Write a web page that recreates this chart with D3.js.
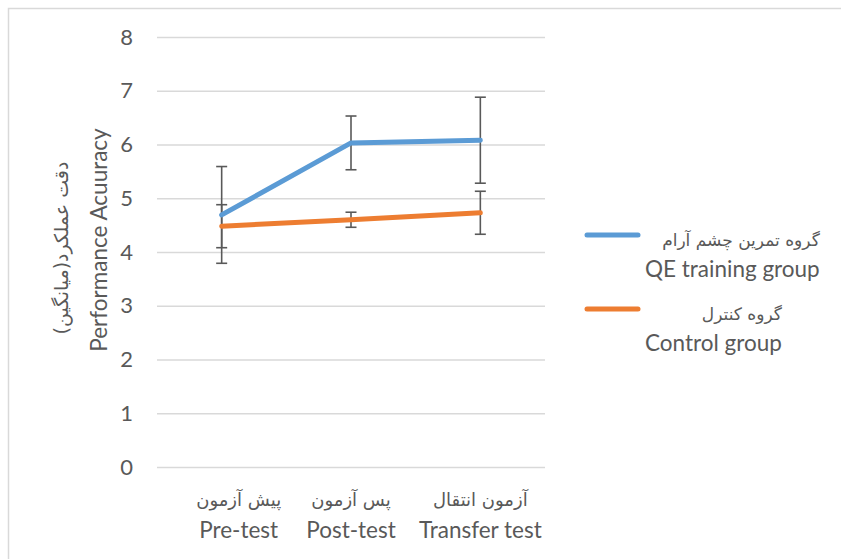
<!DOCTYPE html>
<html>
<head>
<meta charset="utf-8">
<script src="https://cdn.jsdelivr.net/npm/d3@7"></script>
<style>
  body { margin: 0; background: #fff; }
  svg text { fill: #595959; }
  .en { font-family: Lato, 'Liberation Sans', sans-serif; }
  .fa { font-family: 'DejaVu Sans', sans-serif; }
</style>
</head>
<body>
<script>
// chart data
var categories = ['Pre-test', 'Post-test', 'Transfer test'];
var categoriesFa = ['پیش آزمون', 'پس آزمون', 'آزمون انتقال'];
var yTicks = [0, 1, 2, 3, 4, 5, 6, 7, 8];

var qeMeans = [4.69, 6.03, 6.08];
var qeErrors = [0.9, 0.5, 0.8];
var controlMeans = [4.48, 4.60, 4.73];
var controlErrors = [0.4, 0.14, 0.4];

var seriesNames = ['QE training group', 'Control group'];
var seriesNamesFa = ['گروه تمرین چشم آرام', 'گروه کنترل'];
var seriesColors = ['#5B9BD5', '#ED7D31'];

var chart = {
  width: 841,
  height: 559,
  left: 157,
  right: 545,
  top: 37,
  bottom: 467
};

var svg = d3.select('body').append('svg')
  .attr('width', chart.width)
  .attr('height', chart.height);

// outer frame
svg.append('rect')
  .attr('x', 8.5).attr('y', 8.5)
  .attr('width', 850).attr('height', 570)
  .attr('fill', '#fff')
  .attr('stroke', '#d9d9d9')
  .attr('stroke-width', 1.5);

var x = d3.scaleBand()
  .domain(categories)
  .range([chart.left, chart.right]);

var y = d3.scaleLinear()
  .domain([0, 8])
  .range([chart.bottom, chart.top]);

var cx = function(c) { return x(c) + x.bandwidth() / 2; };

// gridlines + tick labels
var yAxis = svg.append('g')
  .attr('transform', 'translate(' + chart.left + ',0)')
  .call(d3.axisLeft(y)
    .tickValues(yTicks)
    .tickSize(-(chart.right - chart.left))
    .tickPadding(24)
    .tickFormat(d3.format('d')));

yAxis.select('.domain').remove();
yAxis.selectAll('.tick line')
  .attr('stroke', '#d9d9d9')
  .attr('stroke-width', 1.3);
yAxis.selectAll('.tick text')
  .attr('class', 'en')
  .style('font-size', '22px')
  .style('fill', '#595959');

// category labels (first one sits a bit right of its band centre in the original)
var catShift = [17, 0, 0];
var catG = svg.append('g');
categories.forEach(function(c, i) {
  catG.append('text')
    .attr('class', 'fa')
    .attr('x', cx(c) + catShift[i])
    .attr('y', 506)
    .attr('text-anchor', 'middle')
    .style('font-size', '18px')
    .text(categoriesFa[i]);
  catG.append('text')
    .attr('class', 'en')
    .attr('x', cx(c) + catShift[i])
    .attr('y', 538)
    .attr('text-anchor', 'middle')
    .style('font-size', '22.5px')
    .text(c);
});

// y axis titles
svg.append('text')
  .attr('class', 'en')
  .attr('transform', 'translate(107,240) rotate(-90)')
  .attr('text-anchor', 'middle')
  .style('font-size', '22.5px')
  .text('Performance Acuuracy');

svg.append('text')
  .attr('class', 'fa')
  .attr('transform', 'translate(68,248) rotate(-90)')
  .attr('text-anchor', 'middle')
  .style('font-size', '19px')
  .text('دقت عملکرد(میانگین)');

// error bars
var drawErrors = function(means, errors) {
  var g = svg.append('g')
    .attr('stroke', '#595959')
    .attr('stroke-width', 1.6);
  categories.forEach(function(c, i) {
    var px = cx(c);
    var hi = y(means[i] + errors[i]);
    var lo = y(means[i] - errors[i]);
    g.append('line').attr('x1', px).attr('x2', px).attr('y1', hi).attr('y2', lo);
    g.append('line').attr('x1', px - 5.5).attr('x2', px + 5.5).attr('y1', hi).attr('y2', hi);
    g.append('line').attr('x1', px - 5.5).attr('x2', px + 5.5).attr('y1', lo).attr('y2', lo);
  });
};

drawErrors(qeMeans, qeErrors);
drawErrors(controlMeans, controlErrors);

// lines
var line = d3.line()
  .x(function(d, i) { return cx(categories[i]); })
  .y(function(d) { return y(d); });

[qeMeans, controlMeans].forEach(function(series, i) {
  svg.append('path')
    .datum(series)
    .attr('d', line)
    .attr('fill', 'none')
    .attr('stroke', seriesColors[i])
    .attr('stroke-width', 5)
    .attr('stroke-linecap', 'round')
    .attr('stroke-linejoin', 'round');
});

// legend
var legendRows = [235, 309];
var legendTextLeft = 645;
seriesNames.forEach(function(name, i) {
  var ly = legendRows[i];
  svg.append('line')
    .attr('x1', 587).attr('x2', 638)
    .attr('y1', ly).attr('y2', ly)
    .attr('stroke', seriesColors[i])
    .attr('stroke-width', 5)
    .attr('stroke-linecap', 'round');

  var fa = svg.append('text')
    .attr('class', 'fa')
    .attr('y', ly + 11)
    .attr('text-anchor', 'end')
    .style('font-size', '17px')
    .text(seriesNamesFa[i]);
  var en = svg.append('text')
    .attr('class', 'en')
    .attr('y', ly + 42)
    .attr('text-anchor', 'end')
    .style('font-size', '22.5px')
    .text(name);

  var w = Math.max(fa.node().getComputedTextLength(), en.node().getComputedTextLength());
  fa.attr('x', legendTextLeft + w);
  en.attr('x', legendTextLeft + w);
});
</script>
</body>
</html>
